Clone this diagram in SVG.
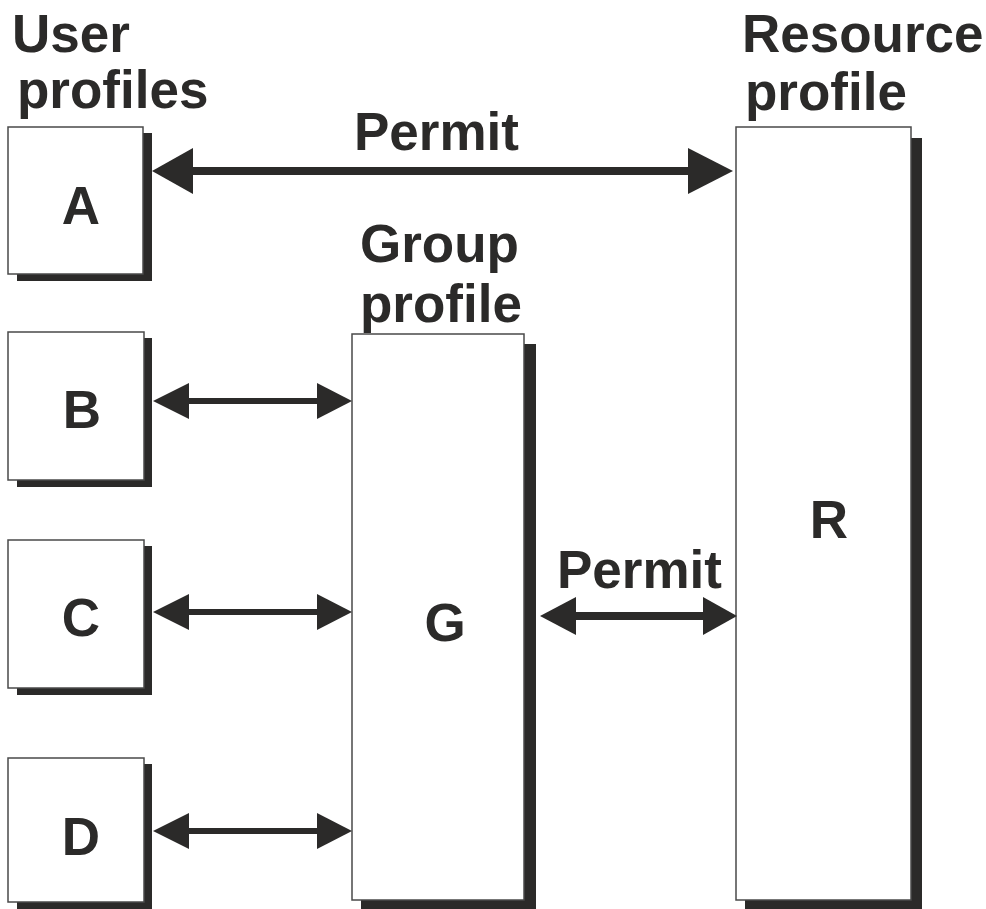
<svg xmlns="http://www.w3.org/2000/svg" width="986" height="909" viewBox="0 0 986 909">
<style>
.t{font-family:"Liberation Sans",Arial,sans-serif;font-weight:bold;font-size:53px;fill:#2b2a29}
.box{fill:#fff;stroke:#4a4a4a;stroke-width:1.5}
.sh{fill:#2b2a29}
.ln{stroke:#2b2a29;fill:none}
.hd{fill:#2b2a29}
</style>
<rect width="986" height="909" fill="#fff"/>
<text class="t" x="12" y="52">User</text>
<text class="t" x="17" y="108">profiles</text>
<text class="t" x="742" y="52">Resource</text>
<text class="t" x="745" y="110">profile</text>
<g id="node-A">
<rect class="sh" x="17" y="133" width="135" height="148"/>
<rect class="box" x="8" y="127" width="135" height="147"/>
<text class="t" x="81" y="224" text-anchor="middle">A</text>
</g>
<g id="node-B">
<rect class="sh" x="17" y="338" width="135" height="149"/>
<rect class="box" x="8" y="332" width="136" height="148"/>
<text class="t" x="82" y="428" text-anchor="middle">B</text>
</g>
<g id="node-C">
<rect class="sh" x="17" y="546" width="135" height="149"/>
<rect class="box" x="8" y="540" width="136" height="148"/>
<text class="t" x="81" y="636" text-anchor="middle">C</text>
</g>
<g id="node-D">
<rect class="sh" x="17" y="764" width="135" height="145"/>
<rect class="box" x="8" y="758" width="136" height="144"/>
<text class="t" x="81" y="855" text-anchor="middle">D</text>
</g>
<g id="node-G">
<text class="t" x="360" y="262">Group</text>
<text class="t" x="360" y="322">profile</text>
<rect class="sh" x="361" y="344" width="175" height="565"/>
<rect class="box" x="352" y="334" width="172" height="566"/>
<text class="t" x="445" y="641" text-anchor="middle">G</text>
</g>
<g id="node-R">
<rect class="sh" x="745" y="138" width="177" height="771"/>
<rect class="box" x="736" y="127" width="175" height="773"/>
<text class="t" x="829" y="538" text-anchor="middle">R</text>
</g>
<g id="connectors">
<text class="t" x="354" y="150">Permit</text>
<line class="ln" x1="190" y1="171" x2="692" y2="171" stroke-width="8"/>
<polygon class="hd" points="152,171 193,148 193,194"/>
<polygon class="hd" points="733,171 688,148 688,194"/>
<line class="ln" x1="185" y1="401" x2="322" y2="401" stroke-width="6"/>
<polygon class="hd" points="153,401 189,383 189,419"/>
<polygon class="hd" points="352,401 317,383 317,419"/>
<line class="ln" x1="185" y1="612" x2="322" y2="612" stroke-width="6"/>
<polygon class="hd" points="153,612 189,594 189,630"/>
<polygon class="hd" points="352,612 317,594 317,630"/>
<line class="ln" x1="185" y1="831" x2="322" y2="831" stroke-width="6"/>
<polygon class="hd" points="153,831 189,813 189,849"/>
<polygon class="hd" points="352,831 317,813 317,849"/>
<text class="t" x="557" y="588">Permit</text>
<line class="ln" x1="570" y1="616" x2="708" y2="616" stroke-width="8"/>
<polygon class="hd" points="540,616 576,597 576,635"/>
<polygon class="hd" points="737,616 703,597 703,635"/>
</g>
</svg>
